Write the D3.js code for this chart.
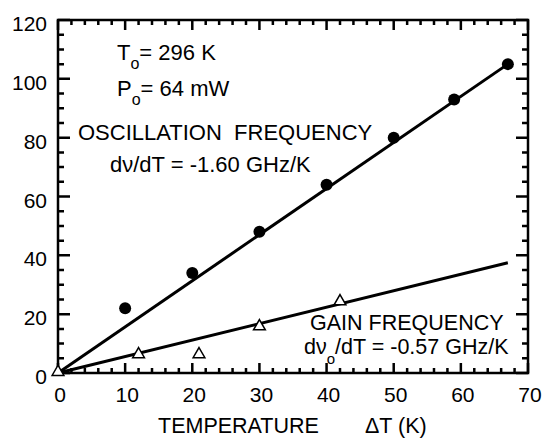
<!DOCTYPE html>
<head>
  <meta charset="utf-8">
  <script src="https://d3js.org/d3.v7.min.js"></script>
  <style>
    body { margin:0; background:white; }
    svg { display:block; }
    text { font-family: "Liberation Sans", Arial, sans-serif; fill:black; }
  </style>
</head>
<body>
<script>
  // data
  var oscT = [10, 20, 30, 40, 50, 59, 67];
  var oscF = [22, 34, 48, 64, 80, 93, 105];
  var gainT = [0, 12, 21, 30, 42];
  var gainF = [0, 6, 6, 15.5, 24];
  // fitted lines (start, end)
  var oscFitT = [0, 67], oscFitF = [0, 105];
  var gainFitT = [0, 67], gainFitF = [0, 37.5];
  var xTicks = [0, 10, 20, 30, 40, 50, 60, 70];
  var yTicks = [0, 20, 40, 60, 80, 100, 120];

  var width = 543, height = 439;
  var svg = d3.select("body").append("svg")
    .attr("width", width).attr("height", height);

  var x = d3.scaleLinear().domain([0, 70]).range([58, 528]);
  var y = d3.scaleLinear().domain([0, 120]).range([373, 20]);
  var x0 = 58, x1 = 528, y0 = 373, y1 = 20;

  var xMinor = d3.range(0, 71, 2), yMinor = d3.range(0, 121, 5);

  // ticks point inward on all four sides, drawn as one path
  var p = d3.path();
  xMinor.forEach(function(v) {
    var len = xTicks.indexOf(v) >= 0 ? 10 : 5;
    p.moveTo(x(v), y0); p.lineTo(x(v), y0 - len);
    p.moveTo(x(v), y1); p.lineTo(x(v), y1 + len);
  });
  yMinor.forEach(function(v) {
    var len = yTicks.indexOf(v) >= 0 ? 12 : 6;
    p.moveTo(x0, y(v)); p.lineTo(x0 + len, y(v));
    p.moveTo(x1, y(v)); p.lineTo(x1 - len, y(v));
  });
  svg.append("path").attr("d", p.toString())
    .attr("fill", "none").attr("stroke", "black").attr("stroke-width", 2.5);

  svg.append("rect")
    .attr("x", x0).attr("y", y1).attr("width", x1 - x0).attr("height", y0 - y1)
    .attr("fill", "none").attr("stroke", "black").attr("stroke-width", 2.5);

  // tick labels
  svg.selectAll("text.xl").data(xTicks).enter().append("text")
    .attr("class", "xl")
    .attr("x", d => x(d) + 2).attr("y", 402)
    .attr("text-anchor", "middle").style("font-size", "21px")
    .text(d => d);
  svg.selectAll("text.yl").data(yTicks).enter().append("text")
    .attr("class", "yl")
    .attr("x", 47).attr("y", d => y(d) + 11)
    .attr("text-anchor", "end").style("font-size", "21px")
    .text(d => d);

  // fit lines
  var line = d3.line().x(d => x(d[0])).y(d => y(d[1]));
  svg.append("path").datum(d3.zip(oscFitT, oscFitF))
    .attr("d", line).attr("stroke", "black").attr("stroke-width", 3).attr("fill", "none");
  svg.append("path").datum(d3.zip(gainFitT, gainFitF))
    .attr("d", line).attr("stroke", "black").attr("stroke-width", 3).attr("fill", "none");

  // points
  svg.selectAll("circle.osc").data(d3.zip(oscT, oscF)).enter().append("circle")
    .attr("class", "osc")
    .attr("cx", d => x(d[0])).attr("cy", d => y(d[1])).attr("r", 6)
    .attr("fill", "black");
  var tri = d3.symbol().type(d3.symbolTriangle).size(60);
  svg.selectAll("path.gain").data(d3.zip(gainT, gainF)).enter().append("path")
    .attr("class", "gain")
    .attr("d", tri)
    .attr("transform", d => "translate(" + x(d[0]) + "," + (y(d[1]) - 1) + ")")
    .attr("fill", "white").attr("stroke", "black").attr("stroke-width", 1.5);

  // annotations
  function label(tx, ty, size, parts) {
    var t = svg.append("text").attr("x", tx).attr("y", ty).style("font-size", size + "px");
    parts.forEach(function(p) {
      var s = t.append("tspan").text(p[0]);
      if (p[1]) s.attr("dy", p[1]);
      if (p[2]) s.style("font-size", p[2]);
    });
    return t;
  }
  label(117, 60, 22, [["T"], ["o", 9, "16px"], ["= 296 K", -9]]);
  label(117, 96, 22, [["P"], ["o", 9, "16px"], ["= 64 mW", -9]]);
  svg.append("text").attr("x", 78).attr("y", 140).style("font-size", "22px")
    .attr("xml:space", "preserve").text("OSCILLATION  FREQUENCY");
  svg.append("text").attr("x", 110).attr("y", 172).style("font-size", "22px")
    .text("dν/dT = -1.60 GHz/K");
  svg.append("text").attr("x", 310).attr("y", 330).style("font-size", "21.5px")
    .text("GAIN FREQUENCY");
  label(304, 354, 21.5, [["dν"], ["o", 10, "15px"], ["/dT = -0.57 GHz/K", -10]]);

  // axis title
  svg.append("text").attr("x", 158).attr("y", 433).style("font-size", "21.5px")
    .text("TEMPERATURE");
  svg.append("text").attr("x", 365).attr("y", 433).style("font-size", "21.5px")
    .text("ΔT (K)");
</script>
</body>
